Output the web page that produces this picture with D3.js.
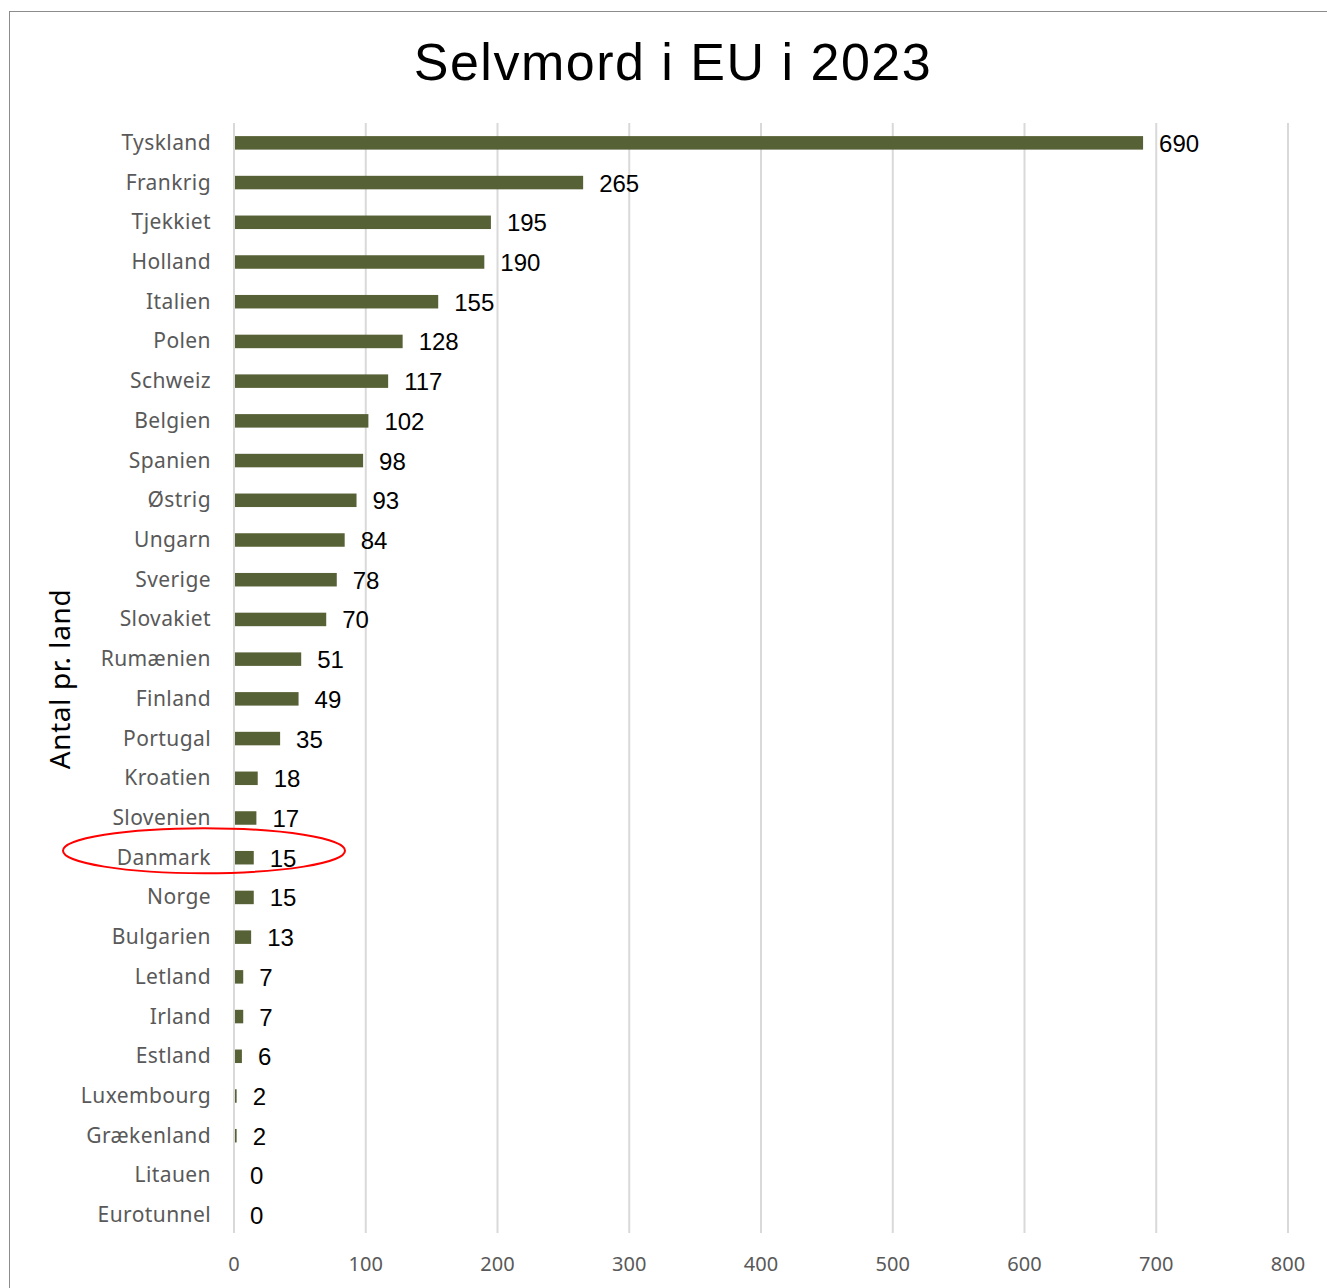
<!DOCTYPE html>
<html>
<head>
<meta charset="utf-8">
<script src="https://cdn.jsdelivr.net/npm/d3@7"></script>
<style>
  body { margin: 0; background: #fff; }
</style>
</head>
<body>
<svg id="chart" width="1327" height="1288"></svg>
<script>
// data
const countries = ["Tyskland", "Frankrig", "Tjekkiet", "Holland", "Italien", "Polen", "Schweiz",
  "Belgien", "Spanien", "Østrig", "Ungarn", "Sverige", "Slovakiet", "Rumænien", "Finland",
  "Portugal", "Kroatien", "Slovenien", "Danmark", "Norge", "Bulgarien", "Letland", "Irland",
  "Estland", "Luxembourg", "Grækenland", "Litauen", "Eurotunnel"];
const values = [690, 265, 195, 190, 155, 128, 117, 102, 98, 93, 84, 78, 70, 51, 49, 35, 18, 17,
  15, 15, 13, 7, 7, 6, 2, 2, 0, 0];
const xTicks = [0, 100, 200, 300, 400, 500, 600, 700, 800];
const highlight = "Danmark";

const svg = d3.select("#chart");
const data = countries.map((c, i) => ({ name: c, value: values[i] }));

// outer frame
svg.append("rect").attr("x", 9.5).attr("y", 11.5).attr("width", 1340).attr("height", 1300)
  .attr("fill", "none").attr("stroke", "#8c8c8c").attr("stroke-width", 1);

// title
svg.append("text").attr("x", 673).attr("y", 80).attr("text-anchor", "middle")
  .style("font-family", "'Liberation Sans', Arial, sans-serif").style("font-size", "52px")
  .style("letter-spacing", "1.5px")
  .attr("fill", "#000").text("Selvmord i EU i 2023");

let xScale = d3.scaleLinear().domain([0, 800]).range([234, 1288]);
let yScale = d3.scaleBand().domain(countries).range([122, 1234]).paddingInner(0.66).paddingOuter(0.33);

// gridlines
svg.append("g").selectAll("line").data(xTicks).enter().append("line")
  .attr("x1", d => xScale(d)).attr("x2", d => xScale(d))
  .attr("y1", 123).attr("y2", 1233)
  .attr("stroke", "#d9d9d9").attr("stroke-width", 2);

// x axis labels
svg.append("g").selectAll("text").data(xTicks).enter().append("text")
  .attr("x", d => xScale(d)).attr("y", 1271).attr("text-anchor", "middle")
  .style("font-family", "'Noto Sans', sans-serif").style("font-size", "20px")
  .attr("fill", "#595959").text(d => d);

// category labels
svg.append("g").selectAll("text").data(countries).enter().append("text")
  .attr("x", 211).attr("y", d => yScale(d) + yScale.bandwidth() / 2 + 8)
  .attr("text-anchor", "end")
  .style("font-family", "'Noto Sans', sans-serif").style("font-size", "21px")
  .style("letter-spacing", "0.4px")
  .attr("fill", "#595959").text(d => d);

// bars
svg.append("g").selectAll("rect").data(data).enter().append("rect")
  .attr("x", xScale(0) + 1)
  .attr("y", d => yScale(d.name) + 1)
  .attr("width", d => Math.max(0, xScale(d.value) - xScale(0) - 1))
  .attr("height", yScale.bandwidth())
  .attr("fill", "#576136");

// value labels
svg.append("g").selectAll("text").data(data).enter().append("text")
  .attr("x", d => xScale(d.value) + 16)
  .attr("y", d => yScale(d.name) + yScale.bandwidth() / 2 + 10)
  .style("font-family", "'Liberation Sans', Arial, sans-serif").style("font-size", "24px")
  .attr("fill", "#000").text(d => d.value);

// y axis title
svg.append("text").attr("transform", "translate(70,679) rotate(-90)")
  .attr("text-anchor", "middle")
  .style("font-family", "'Noto Sans', sans-serif").style("font-size", "28px")
  .style("letter-spacing", "0.6px")
  .attr("fill", "#000").text("Antal pr. land");

// red ellipse around Danmark
svg.append("ellipse")
  .attr("cx", 204).attr("cy", yScale(highlight) + yScale.bandwidth() / 2 - 6)
  .attr("rx", 141).attr("ry", 22.5)
  .attr("fill", "none").attr("stroke", "#ff0000").attr("stroke-width", 2);
</script>
</body>
</html>
